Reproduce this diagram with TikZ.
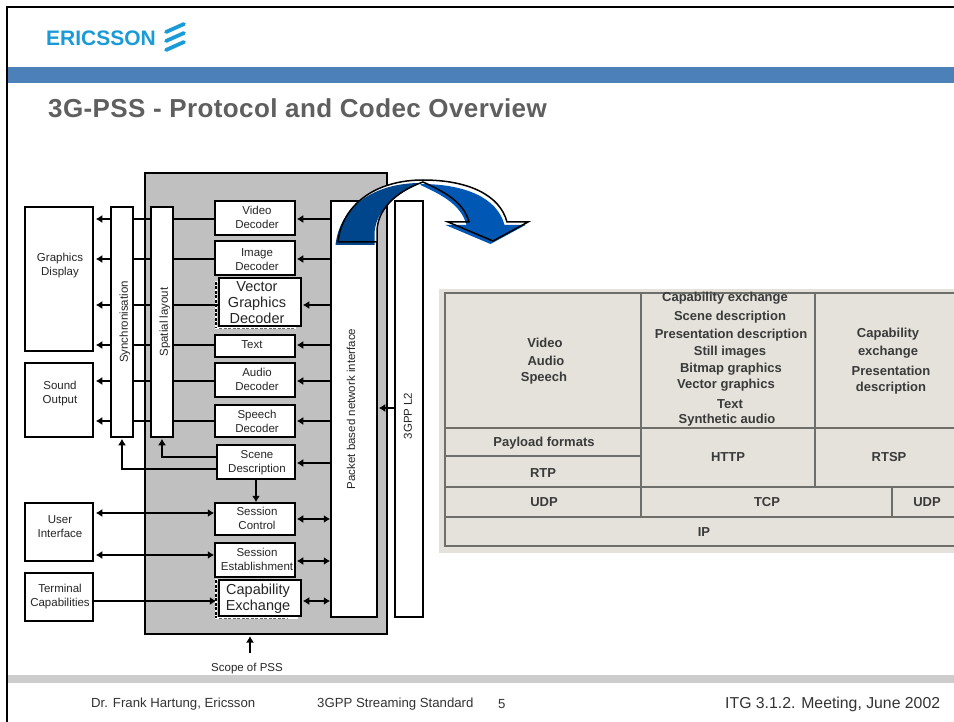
\documentclass[tikz,border=0pt]{standalone}
\usepackage{fontspec}
\setmainfont{Liberation Sans}
\usetikzlibrary{arrows.meta}
\pgfdeclarelayer{back}\pgfdeclarelayer{wires}
\pgfsetlayers{back,wires,main}
\definecolor{band}{HTML}{4C80B8}
\definecolor{foot}{HTML}{CCCCCC}
\definecolor{scopeg}{HTML}{C0C0C0}
\definecolor{ttl}{HTML}{5F5F5F}
\definecolor{logoc}{HTML}{1A9BD7}
\definecolor{tablebg}{HTML}{E4E2DA}
\definecolor{tableln}{HTML}{6E6E6A}
\definecolor{tabletx}{HTML}{3A3A3A}
\definecolor{arrdark}{HTML}{00468C}
\definecolor{arrlight}{HTML}{0058B4}
\tikzset{
  x=1pt,y=-1pt,
  box/.style={draw=black,line width=1.5pt,fill=white,inner sep=0pt,font=\fontsize{11.5}{14}\selectfont,text=black!85},
  bigbox/.style={box,font=\fontsize{14.5}{16}\selectfont},
  wire/.style={line width=1.5pt,-{Latex[length=6.5pt,width=8pt]}},
  dwire/.style={line width=1.5pt,{Latex[length=6.5pt,width=8pt]}-{Latex[length=6.5pt,width=8pt]}},
  tln/.style={draw=tableln,line width=1.2pt},
  ttx/.style={font=\fontsize{13}{15}\selectfont\bfseries,text=tabletx,inner sep=0pt},
  foottx/.style={font=\fontsize{13.2}{15}\selectfont,text=black!80,inner sep=0pt,anchor=west},
  dashb/.style={draw=black,line width=1.5pt,dash pattern=on 3pt off 1.5pt},
  dashw/.style={draw=white,line width=1.5pt},
}
% text block with an offset from the centre of its box (dx, dy, lines)
\newcommand{\tl}[3]{\makebox[0pt]{\hspace*{\dimexpr #1pt*2\relax}\raisebox{\dimexpr -2.9pt-#2pt\relax}[0pt][0pt]{\begin{tabular}{@{}c@{}}#3\end{tabular}}}}
\newcommand{\bx}[7][box]{\node[#1,minimum width=#4-#3,minimum height=#6-#5] (#2) at ({(#3+#4)/2},{(#5+#6)/2}) {#7};}
\begin{document}
\begin{tikzpicture}
\useasboundingbox (0,0) rectangle (954,722);
% slide furniture
\begin{pgfonlayer}{back}
\fill[white] (0,0) rectangle (954,722);
\fill[scopeg,draw=black,line width=1.5pt] (145,173) rectangle (387,634);
\end{pgfonlayer}
\fill[band] (8,67) rectangle (954,83);
\fill[foot] (8,675) rectangle (954,683);
\draw[line width=1.5pt] (7,722) -- (7,7) -- (954,7);
\node[font=\fontsize{21}{23}\selectfont\bfseries,text=logoc,anchor=west,inner sep=0pt] (logo) at (46,38.5) {ERICSSON};
\foreach \yy in {32,41,50}{
  \draw[logoc,line width=3.8pt,line cap=round] (166,\yy) -- (184,\yy-8);
}
\node[font=\fontsize{26}{28}\selectfont\bfseries\addfontfeature{LetterSpace=1.5},text=ttl,anchor=west,inner sep=0pt] (title) at (48,108) {3G-PSS - Protocol and Codec Overview};

% boxes
\bx{display}{25}{93}{207}{351}{\tl{1}{-13}{Graphics\\Display}}
\bx{sound}{25}{93}{363}{437}{\tl{1}{-6}{Sound\\Output}}
\bx{sync}{111}{133}{207}{437}{\hspace*{6pt}\rotatebox{90}{Synchronisation}}
\bx{spatial}{151}{173}{207}{437}{\hspace*{6pt}\rotatebox{90}{Spatial layout}}
\bx{video}{215}{295}{201}{235}{\tl{2}{1}{Video\\Decoder}}
\bx{image}{215}{295}{241}{275}{\tl{2}{3}{Image\\Decoder}}
\bx{textb}{215}{295}{335}{357}{\tl{-3}{0}{Text}}
\bx{audio}{215}{295}{363}{397}{\tl{2}{1}{Audio\\Decoder}}
\bx{speech}{215}{295}{405}{437}{\tl{2}{2}{Speech\\Decoder}}
\bx{scene}{217}{295}{445}{479}{\tl{1}{1}{Scene\\Description}}
\bx{sctl}{215}{295}{503}{535}{\tl{2}{1}{Session\\Control}}
\bx{sest}{215}{295}{543}{577}{\tl{2}{1}{Session\\Establishment}}
\bx{user}{25}{93}{503}{561}{\tl{1}{-4}{User\\Interface}}
\bx{term}{25}{93}{573}{621}{\tl{1}{0}{Terminal\\Capabilities}}
\bx{packet}{331}{377}{201}{617}{\rotatebox{90}{Packet based network interface}\hspace*{6pt}}
\bx{gpp}{395}{423}{201}{617}{\rotatebox{90}{3GPP L2\hspace*{14pt}}\hspace*{2pt}}
% dashed boxes behind the two enlarged boxes
\draw[dashw] (216,282) rectangle (295,328);
\draw[dashb] (216,282) -- (216,328);
\draw[dashw] (216,580) rectangle (297,618);
\draw[dashb] (216,580) -- (216,618);
\draw[line width=.5pt,black!60,dash pattern=on 3pt off 1.5pt] (219,328) -- (295,328) (219,618) -- (287,618);
\bx[bigbox]{vector}{219}{301}{278}{326}{\tl{-3}{3}{Vector\\Graphics\\Decoder}}
\bx[bigbox]{capab}{219}{301}{580}{616}{\tl{-2}{2}{Capability\\Exchange}}
\node[font=\fontsize{11.5}{13}\selectfont,text=black!85,inner sep=0pt] (scope) at (247,669) {Scope of PSS};
\coordinate (scopebot) at (250,653);
\coordinate (scopetip) at (250,636);

% connectors
\begin{pgfonlayer}{wires}
\foreach \src/\yy in {video/219,image/259,vector/305,textb/345,audio/381,speech/421}{
  \draw[wire,shorten >=2pt] (\src.west |- 0,\yy) -- (display.east |- 0,\yy);
}
\foreach \dst/\yy in {video/219,image/259,vector/305,textb/345,audio/381,speech/421,scene/463}{
  \draw[wire,shorten >=1pt] (packet.west |- 0,\yy) -- (\dst.east |- 0,\yy);
}
\draw[wire,shorten >=1pt] (scene.west |- 0,457) -| (spatial.south);
\draw[wire,shorten >=1pt] (scene.west |- 0,469) -| (sync.south);
\draw[wire] (scene.south |- 0,479) -- (scene.south |- sctl.north);
\draw[dwire,shorten <=2pt] (user.east |- 0,513) -- (sctl.west |- 0,513);
\draw[dwire,shorten <=2pt] (user.east |- 0,555) -- (sest.west |- 0,555);
\draw[wire,shorten >=2pt] (term.east |- 0,601) -- (capab.west |- 0,601);
\draw[dwire,shorten <=1pt] (sctl.east |- 0,519) -- (packet.west |- 0,519);
\draw[dwire,shorten <=1pt] (sest.east |- 0,561) -- (packet.west |- 0,561);
\draw[dwire,shorten <=1pt] (capab.east |- 0,601) -- (packet.west |- 0,601);
\draw[wire,shorten >=1pt] (gpp.west |- 0,408) -- (packet.east |- 0,408);
\draw[wire] (scopebot) -- (scopetip);
\end{pgfonlayer}

% table picture
\fill[tablebg] (439,289) rectangle (954,553);
\draw[tln] (954,293) -- (445,293) -- (445,546) -- (954,546);
\draw[tln] (445,428) -- (954,428) (445,487) -- (954,487) (445,517) -- (954,517);
\draw[tln] (445,456) -- (641,456) (641,293) -- (641,517) (815,293) -- (815,487) (892,487) -- (892,517);
\foreach \tx/\px/\py [count=\i] in {Video/545/343,Audio/546/361,Speech/544/378,
  Capability exchange/725/298,Scene description/730/317,Presentation description/731/335,
  Still images/730/352,Bitmap graphics/731/369,Vector graphics/726/385,Text/730/404,Synthetic audio/727/420,
  Capability/888/334,exchange/888/352,Presentation/891/371,description/891/388,
  Payload formats/544/443,RTP/543/473,HTTP/728/457,RTSP/889/457,UDP/544/502,TCP/767/502,UDP/927/502,IP/704/532}{
  \node[ttx] (t\i) at (\px,\py) {\tx};
}

% curved arrow
\fill[white] (338,242) .. controls (342,205) and (375,180) .. (423,180)
  .. controls (468,180) and (500,195) .. (507,222) -- (528,222) -- (493,241) -- (448,222) -- (469,222)
  .. controls (464,203) and (447,193) .. (423,182) .. controls (395,192) and (377,210) .. (377,232) -- (377,242) -- cycle;
\begin{scope}[shift={(-2.5,3)}]
\fill[arrlight] (423,181) .. controls (468,181) and (500,195) .. (507,222) -- (528,222) -- (493,241) -- (448,222) -- (469,222)
  .. controls (464,203) and (447,193) .. (423,182) -- cycle;
\fill[arrdark] (338,242) .. controls (342,205) and (375,180) .. (423,180)
  .. controls (395,192) and (377,210) .. (377,232) -- (377,242) -- cycle;
\end{scope}
\draw[line width=1.5pt,line join=miter] (338,242) .. controls (342,205) and (375,180) .. (423,180)
  .. controls (468,180) and (500,195) .. (507,222) -- (528,222) -- (493,241) -- (448,222) -- (469,222)
  .. controls (464,203) and (447,193) .. (423,182) .. controls (395,192) and (377,210) .. (377,232) -- (377,242) -- cycle;

% footer
\node[foottx] (f1) at (91,704) {Dr. Frank Hartung, Ericsson};
\node[foottx] (f2) at (317,704) {3GPP Streaming Standard};
\node[foottx] (f3) at (498,704) {5};
\node[foottx,font=\fontsize{15.8}{17}\selectfont] (f4) at (725,704) {ITG 3.1.2. Meeting, June 2002};
\end{tikzpicture}
\end{document}
